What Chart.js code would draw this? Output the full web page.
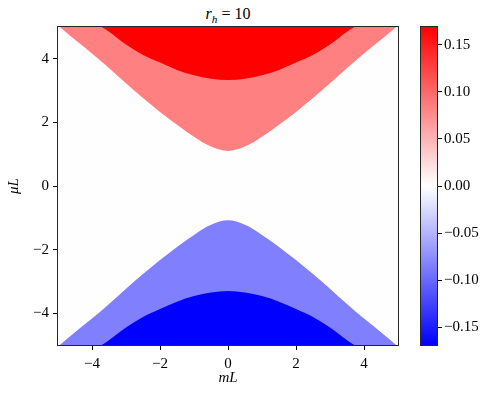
<!DOCTYPE html>
<html lang="en">
<head>
  <meta charset="UTF-8" />
  <title>r_h = 10</title>
  <script src="https://cdn.jsdelivr.net/npm/chart.js"></script>
  <style>
    * { margin: 0; padding: 0; box-sizing: border-box; }
    body { width: 488px; height: 397px; background: #fff; position: relative; overflow: hidden;
           font-family: "Liberation Serif", serif; }
    #title {
      position: absolute; left: 128px; top: 6px; width: 200px;
      text-align: center; font-size: 16px; line-height: 15px; color: #000;
    }
    #title sub { font-size: 0.7em; vertical-align: -4px; line-height: 0; }
    #mainWrap { position: absolute; left: 0; top: 0; width: 410px; height: 397px; }
    #barWrap { position: absolute; left: 410px; top: 0; width: 78px; height: 397px; }
  </style>
</head>
<body>
  <div id="title"><i>r</i><sub><i>h</i></sub> = 10</div>
  <div id="mainWrap"><canvas id="mainChart" width="410" height="397"></canvas></div>
  <div id="barWrap"><canvas id="barChart" width="78" height="397"></canvas></div>

  <script>
    const mVals = [-5, -4.5, -4, -3.5, -3, -2.5, -2, -1.5, -1, -0.5, 0,
                   0.5, 1, 1.5, 2, 2.5, 3, 3.5, 4, 4.5, 5];
    // upper half: white -> light red, light red -> red
    const upperInner = [5.05, 4.60, 4.17, 3.71, 3.23, 2.77, 2.33, 1.93, 1.55, 1.24, 1.10,
                        1.24, 1.55, 1.93, 2.33, 2.77, 3.23, 3.71, 4.17, 4.60, 5.05];
    const upperOuter = [6.00, 5.60, 5.20, 4.85, 4.45, 4.12, 3.88, 3.65, 3.48, 3.37, 3.33,
                        3.37, 3.48, 3.65, 3.88, 4.12, 4.45, 4.85, 5.20, 5.60, 6.00];
    // lower half: white -> light blue, light blue -> blue
    const lowerInner = [-5.05, -4.60, -4.17, -3.71, -3.23, -2.77, -2.33, -1.92, -1.54, -1.22, -1.08,
                        -1.22, -1.54, -1.92, -2.33, -2.77, -3.23, -3.71, -4.17, -4.60, -5.05];
    const lowerOuter = [-6.00, -5.60, -5.20, -4.85, -4.45, -4.12, -3.87, -3.64, -3.46, -3.35, -3.30,
                        -3.35, -3.46, -3.64, -3.87, -4.12, -4.45, -4.85, -5.20, -5.60, -6.00];
    // level values of the bands
    const levels = [-0.169, -0.0845, 0, 0.0845, 0.169];

    const xTicks = [-4, -2, 0, 2, 4];
    const yTicks = [-4, -2, 0, 2, 4];
    const cbTicks = [-0.15, -0.10, -0.05, 0.00, 0.05, 0.10, 0.15];

    // bwr colormap
    function bwr(v) {
      const t = (v - levels[0]) / (levels[4] - levels[0]);
      let r, g, b;
      if (t < 0.5) { r = g = Math.round(255 * 2 * t); b = 255; }
      else { r = 255; g = b = Math.round(255 * 2 * (1 - t)); }
      return `rgb(${r},${g},${b})`;
    }

    const pts = ys => mVals.map((m, i) => ({ x: m, y: ys[i] }));
    const fmt = v => (v < 0 ? '\u2212' : '') + Math.abs(v);
    const fmt2 = v => (v < 0 ? '\u2212' : '') + Math.abs(v).toFixed(2);

    const framePlugin = {
      id: 'frame',
      beforeDraw(chart) {
        const { ctx, chartArea: a } = chart;
        if (chart.canvas.id === 'mainChart') {
          ctx.save();
          ctx.fillStyle = '#fffefe';
          ctx.fillRect(a.left, a.top, a.right - a.left, a.bottom - a.top);
          ctx.restore();
        }
      },
      afterDraw(chart) {
        const { ctx, chartArea: a } = chart;
        ctx.save();
        ctx.strokeStyle = '#262626';
        ctx.lineWidth = 1;
        ctx.strokeRect(a.left - 0.5, a.top - 0.5, a.right - a.left + 1, a.bottom - a.top + 1);
        ctx.restore();
      }
    };

    const band = (ys, fill, color, order) => ({
      data: pts(ys), fill: fill, backgroundColor: color, borderWidth: 0,
      pointRadius: 0, cubicInterpolationMode: 'monotone', order: order
    });

    const tickFont = { family: 'Liberation Serif', size: 15 };
    const titleFont = { family: 'Liberation Serif', size: 15, style: 'italic' };

    new Chart(document.getElementById('mainChart'), {
      type: 'line',
      data: {
        datasets: [
          band(upperOuter, 'end', bwr(levels[4]), 1),
          band(upperInner, 'end', bwr(levels[3]), 2),
          band(lowerOuter, 'start', bwr(levels[0]), 1),
          band(lowerInner, 'start', bwr(levels[1]), 2)
        ]
      },
      options: {
        responsive: false,
        animation: false,
        layout: { padding: { top: 27, right: 12, left: 0, bottom: 0 } },
        plugins: { legend: { display: false }, tooltip: { enabled: false } },
        scales: {
          x: {
            type: 'linear', min: -5, max: 5,
            afterBuildTicks: s => { s.ticks = xTicks.map(v => ({ value: v })); },
            afterFit: s => { s.height = 52; },
            grid: { drawOnChartArea: false, tickLength: 5, tickColor: '#000' },
            border: { display: false },
            ticks: { color: '#000', font: tickFont, padding: 5, callback: fmt, maxRotation: 0 },
            title: { display: true, text: 'mL', color: '#000', font: titleFont, padding: { top: 0, bottom: 10 } }
          },
          y: {
            type: 'linear', min: -5, max: 5,
            afterBuildTicks: s => { s.ticks = yTicks.map(v => ({ value: v })); },
            afterFit: s => { s.width = 58; },
            grid: { drawOnChartArea: false, tickLength: 5, tickColor: '#000' },
            border: { display: false },
            ticks: { color: '#000', font: tickFont, padding: 4, callback: fmt },
            title: { display: true, text: 'μL', color: '#000', font: titleFont, padding: { top: 5, bottom: 0 } }
          }
        }
      },
      plugins: [framePlugin]
    });

    // colorbar
    new Chart(document.getElementById('barChart'), {
      type: 'bar',
      data: {
        labels: [''],
        datasets: [{
          data: [[levels[0], levels[4]]],
          barPercentage: 1, categoryPercentage: 1, borderWidth: 0,
          backgroundColor: c => {
            const a = c.chart.chartArea;
            if (!a) return null;
            const g = c.chart.ctx.createLinearGradient(0, a.bottom, 0, a.top);
            g.addColorStop(0, bwr(levels[0]));
            g.addColorStop(0.5, '#ffffff');
            g.addColorStop(1, bwr(levels[4]));
            return g;
          }
        }]
      },
      options: {
        responsive: false,
        animation: false,
        layout: { padding: { top: 27, left: 11, right: 0, bottom: 52 } },
        plugins: { legend: { display: false }, tooltip: { enabled: false } },
        scales: {
          x: { display: false },
          y: {
            position: 'right', min: levels[0], max: levels[4],
            afterBuildTicks: s => { s.ticks = cbTicks.map(v => ({ value: v })); },
            afterFit: s => { s.width = 51; },
            grid: { drawOnChartArea: false, tickLength: 5, tickColor: '#000' },
            border: { display: false },
            ticks: { color: '#000', font: tickFont, padding: 2, callback: fmt2 }
          }
        }
      },
      plugins: [framePlugin]
    });
  </script>
</body>
</html>
